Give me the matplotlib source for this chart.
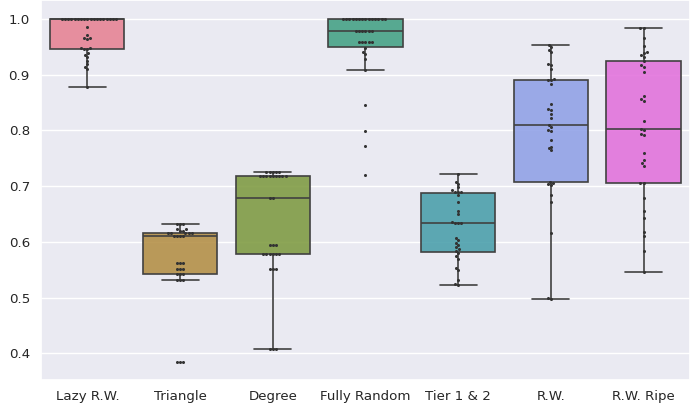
import matplotlib
matplotlib.use("Agg")
import matplotlib.pyplot as plt
import matplotlib.colors as mcolors
import seaborn as sns
import pandas as pd

categories = ["Lazy R.W.", "Triangle", "Degree", "Fully Random", "Tier 1 & 2", "R.W.", "R.W. Ripe"]

lazy_rw = [1.0] * 18 + [0.985, 0.972, 0.966, 0.966, 0.964, 0.948, 0.948, 0.946, 0.946,
                        0.938, 0.935, 0.931, 0.925, 0.919, 0.914, 0.911, 0.877]
triangle = [0.632, 0.632, 0.632, 0.623, 0.623, 0.620, 0.620,
            0.615, 0.615, 0.615, 0.615, 0.615, 0.611, 0.611, 0.611, 0.611,
            0.562, 0.562, 0.562, 0.552, 0.552, 0.552, 0.543, 0.543, 0.543,
            0.531, 0.531, 0.531, 0.385, 0.385, 0.385]
degree = [0.725] * 5 + [0.719] * 9 + [0.679, 0.679] + [0.594] * 3 + [0.579] * 6 + \
         [0.551] * 3 + [0.408] * 3
fully_random = [1.0] * 14 + [0.979] * 6 + [0.958] * 5 + [0.947, 0.94, 0.937, 0.929, 0.908,
                                                         0.846, 0.799, 0.772, 0.72]
tier_12 = [0.522, 0.525, 0.531, 0.549, 0.553, 0.57, 0.574, 0.58, 0.584, 0.587, 0.59, 0.594,
           0.598, 0.603, 0.607, 0.633, 0.633, 0.633, 0.636, 0.65, 0.656, 0.672, 0.684,
           0.69, 0.69, 0.69, 0.693, 0.698, 0.704, 0.708, 0.722]
rw = [0.953, 0.949, 0.944, 0.94, 0.920, 0.917, 0.910, 0.891, 0.890, 0.892, 0.883, 0.847,
      0.839, 0.837, 0.829, 0.822, 0.81, 0.806, 0.8, 0.798, 0.783, 0.771, 0.768, 0.764,
      0.708, 0.706, 0.704, 0.702, 0.684, 0.672, 0.615, 0.5, 0.497]
rw_ripe = [0.984, 0.983, 0.966, 0.952, 0.94, 0.938, 0.935, 0.932, 0.924, 0.917, 0.913,
           0.904, 0.862, 0.856, 0.853, 0.817, 0.802, 0.8, 0.793, 0.791, 0.759, 0.746,
           0.741, 0.736, 0.706, 0.705, 0.678, 0.655, 0.643, 0.618, 0.61, 0.584, 0.546]

series = [lazy_rw, triangle, degree, fully_random, tier_12, rw, rw_ripe]
rows = []
for cat, vals in zip(categories, series):
    for v in vals:
        rows.append((cat, v))
df = pd.DataFrame(rows, columns=["method", "value"])

sns.set_theme(style="darkgrid")
fig = plt.figure(figsize=(6.99, 4.04), dpi=100)
ax = fig.add_axes([0.0587, 0.0594, 0.9283, 0.9406])

sns.boxplot(data=df, x="method", y="value", hue="method", order=categories,
            hue_order=categories, palette="husl", legend=False, showfliers=False,
            saturation=0.75, ax=ax, linewidth=1.2)
for p in ax.patches:
    fc = p.get_facecolor()
    p.set_facecolor(mcolors.to_rgba(fc[:3], 0.88))
sns.swarmplot(data=df, x="method", y="value", order=categories, color=".2",
              size=2.2, ax=ax)

ax.set_ylim(0.352, 1.034)
ax.set_xlim(-0.5, 6.5)
ax.set_xlabel("")
ax.set_ylabel("")
ax.set_yticks([0.4, 0.5, 0.6, 0.7, 0.8, 0.9, 1.0])
ax.set_yticklabels(["0.4", "0.5", "0.6", "0.7", "0.8", "0.9", "1.0"])
ax.tick_params(axis="x", labelsize=9.6, pad=1)
ax.tick_params(axis="y", labelsize=9.6, pad=2)

fig.savefig("out.png", dpi=100)
